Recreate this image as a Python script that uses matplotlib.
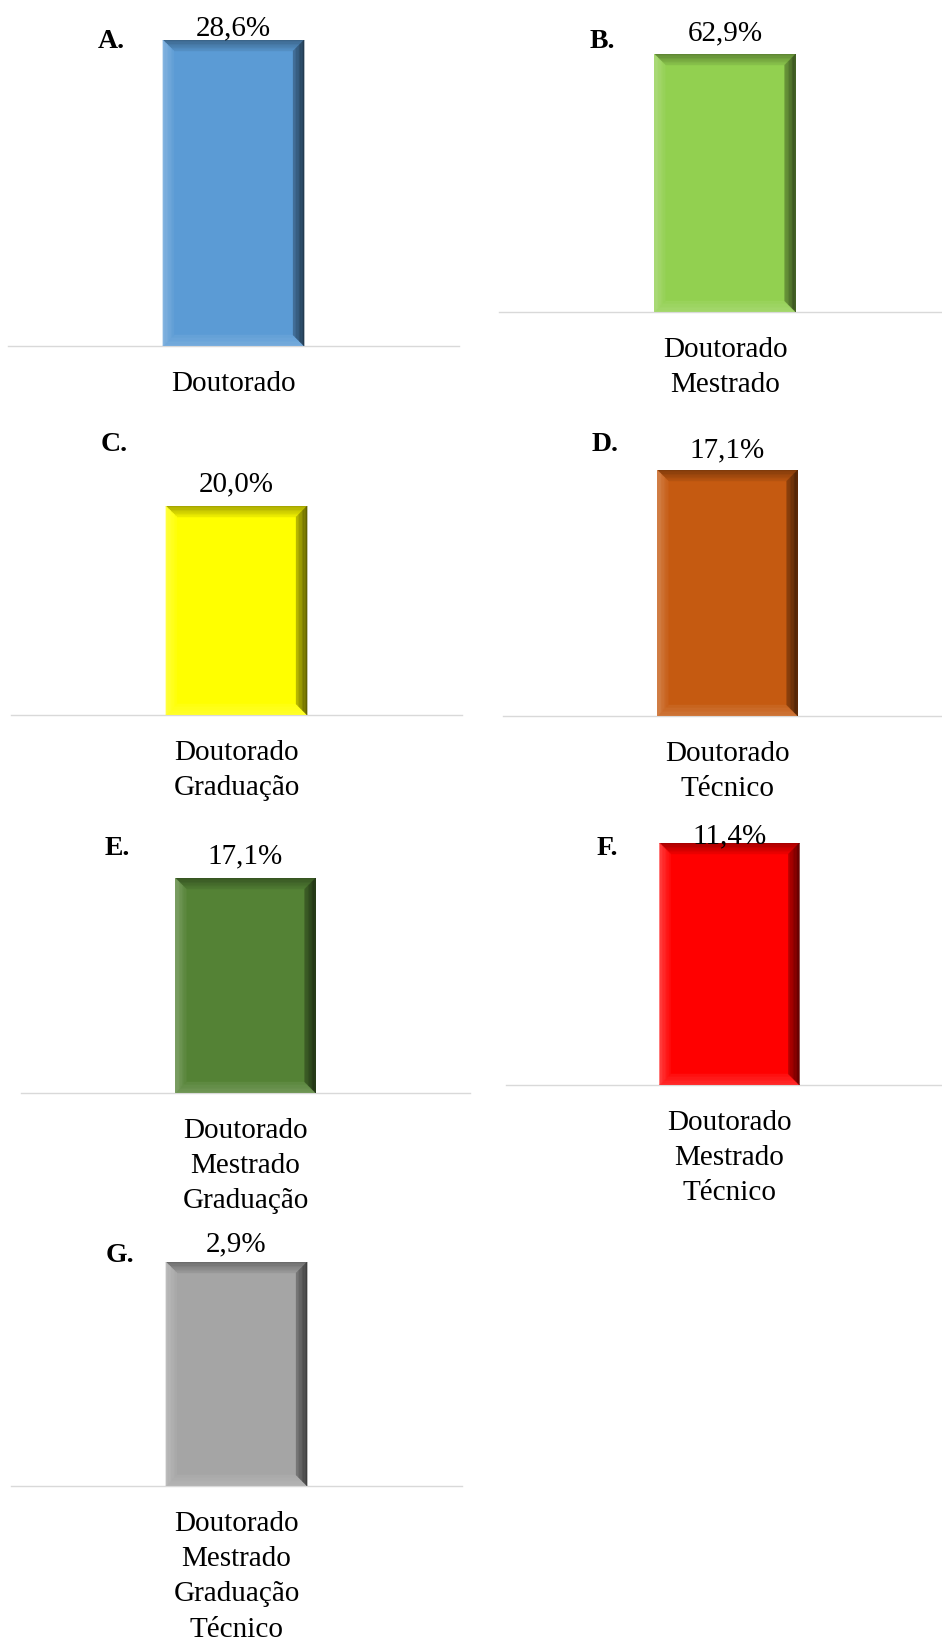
import matplotlib
matplotlib.use("Agg")
import matplotlib.pyplot as plt
from matplotlib.patches import Polygon
from matplotlib.colors import to_rgb
import numpy as np

# ---- data ----
letters = ["A.", "B.", "C.", "D.", "E.", "F.", "G."]
categories = [
    "Doutorado",
    "Doutorado\nMestrado",
    "Doutorado\nGraduação",
    "Doutorado\nTécnico",
    "Doutorado\nMestrado\nGraduação",
    "Doutorado\nMestrado\nTécnico",
    "Doutorado\nMestrado\nGraduação\nTécnico",
]
values = [28.6, 62.9, 20.0, 17.1, 17.1, 11.4, 2.9]
colors = ["#5B9BD5", "#92D050", "#FFFF00", "#C55A11", "#548235", "#FF0000", "#A5A5A5"]

# ---- layout (pixels): left, right, baseline, top ----
W, H = 942, 1638
panels_px = [
    (8, 459, 346, 40),
    (499, 951, 312, 54),
    (11, 462, 715, 506),
    (503, 952, 716, 470),
    (21, 470, 1093, 878),
    (506, 953, 1085, 843),
    (11, 462, 1486, 1262),
]
letter_px = [(98, 48), (590, 48), (101, 451), (592, 451), (105, 855), (597, 855), (106, 1262)]
label_gap_px = [5, 14, 15, 13, 15, 0, 11]

FONT = "Liberation Serif"
plt.rcParams["font.family"] = [FONT, "DejaVu Serif"]

fig = plt.figure(figsize=(W / 100, H / 100), dpi=100)


def mix(c, t, amt):
    c = np.array(to_rgb(c)); t = np.array(t)
    return tuple(c + (t - c) * amt)


def bevel(ax, rect, base, bw=11, n=8):
    fig.canvas.draw_idle()
    bb = rect.get_window_extent()
    x0, y0, x1, y1 = bb.x0, bb.y0, bb.x1, bb.y1
    inv = ax.transData.inverted()
    black, white = (0, 0, 0), (1, 1, 1)
    sides = {
        "top": (mix(base, black, 0.35), mix(base, black, 0.08)),
        "left": (mix(base, white, 0.25), mix(base, white, 0.05)),
        "bottom": (mix(base, white, 0.18), mix(base, white, 0.06)),
        "right": (mix(base, black, 0.62), mix(base, black, 0.30)),
    }
    for k in range(n):
        a = bw * k / n
        b = bw * (k + 1) / n
        t = k / max(n - 1, 1)
        ox0, oy0, ox1, oy1 = x0 + a, y0 + a, x1 - a, y1 - a
        ix0, iy0, ix1, iy1 = x0 + b, y0 + b, x1 - b, y1 - b
        quads = {
            "top": [(ox0, oy1), (ox1, oy1), (ix1, iy1), (ix0, iy1)],
            "bottom": [(ox0, oy0), (ox1, oy0), (ix1, iy0), (ix0, iy0)],
            "left": [(ox0, oy0), (ox0, oy1), (ix0, iy1), (ix0, iy0)],
            "right": [(ox1, oy0), (ox1, oy1), (ix1, iy1), (ix1, iy0)],
        }
        for s in ["top", "bottom", "left", "right"]:
            co, ci = sides[s]
            col = tuple(np.array(co) + (np.array(ci) - np.array(co)) * t)
            pts = inv.transform(np.array(quads[s]))
            ax.add_patch(Polygon(pts, closed=True, facecolor=col, edgecolor=col,
                                 lw=0.3, zorder=3))


for i in range(len(values)):
    l, r, base, top = panels_px[i]
    ax = fig.add_axes([l / W, 1 - base / H, (r - l) / W, (base - top) / H])
    bars = ax.bar([0], [values[i]], width=0.313, color=colors[i], zorder=2)
    ax.set_xlim(-0.5, 0.5)
    ax.set_ylim(0, values[i])
    for s in ["top", "left", "right"]:
        ax.spines[s].set_visible(False)
    ax.spines["bottom"].set_color("#d9d9d9")
    ax.spines["bottom"].set_linewidth(1.0)
    ax.set_yticks([])
    ax.set_xticks([0])
    ax.set_xticklabels([categories[i]], fontsize=21, fontfamily=FONT, linespacing=1.46)
    ax.tick_params(axis="x", length=0, pad=18)
    ax.patch.set_visible(False)
    ax.annotate(f"{values[i]:.1f}%".replace(".", ","), xy=(0, values[i]),
                xytext=(0, label_gap_px[i] * 0.72), textcoords="offset points",
                ha="center", va="baseline", fontsize=21, fontfamily=FONT,
                annotation_clip=False, zorder=5)
    bevel(ax, bars.patches[0], colors[i])
    lx, ly = letter_px[i]
    fig.text(lx / W, 1 - ly / H, letters[i], fontsize=20, fontweight="bold",
             fontfamily=FONT, ha="left", va="baseline")

fig.savefig("out.png", dpi=100)
